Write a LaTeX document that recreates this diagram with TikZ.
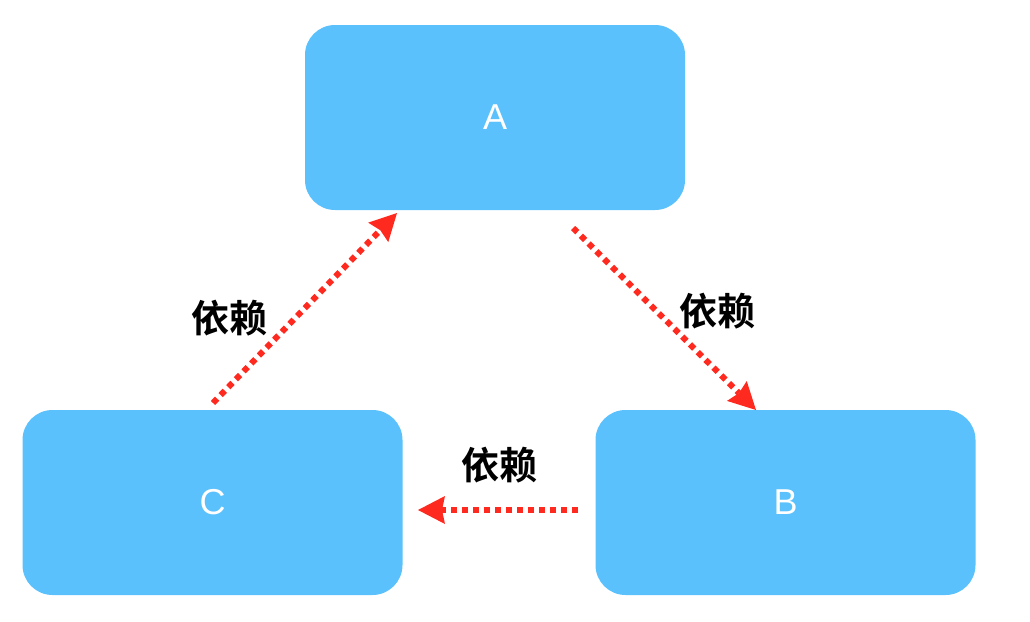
\documentclass[tikz,border=0pt]{standalone}
\usepackage{fontspec}
\setsansfont{Liberation Sans}
\newfontfamily\cjk{Noto Sans CJK SC}[BoldFont={* Bold}]
\usetikzlibrary{arrows.meta}
\definecolor{boxblue}{HTML}{5AC1FC}
\definecolor{arrred}{HTML}{FF2A1F}
\begin{document}
\begin{tikzpicture}[x=1pt,y=-1pt,
  blk/.style={fill=boxblue, draw=none, rounded corners=30pt, minimum width=380pt, minimum height=185pt,
    text=white, font=\sffamily\fontsize{36}{40}\selectfont},
  dep/.style={draw=arrred, line width=6pt, dash pattern=on 6pt off 5pt,
    -{Stealth[inset=3pt, length=27pt, width=28pt, line width=0pt, sep=0pt]}},
  lbl/.style={font=\cjk\bfseries\fontsize{38}{42}\selectfont, text=black, inner sep=0pt}]
\useasboundingbox (0,0) rectangle (1030,621);
\node[blk] (A) at (495,117.5) {A};
\node[blk] (C) at (212.5,502.5) {C};
\node[blk] (B) at (785.5,502.5) {B};
\coordinate (c1) at (213,403);
\coordinate (a1) at (397,213);
\coordinate (a2) at (573,228);
\coordinate (b1) at (756,410);
\coordinate (b2) at (578,510);
\coordinate (c2) at (418,510);
\draw[dep] (c1) -- (a1);
\draw[dep] (a2) -- (b1);
\draw[dep] (b2) -- (c2);
\node[lbl] (l1) at (229,318) {依赖};
\node[lbl] (l2) at (717,311) {依赖};
\node[lbl] (l3) at (499,465) {依赖};
\end{tikzpicture}
\end{document}
